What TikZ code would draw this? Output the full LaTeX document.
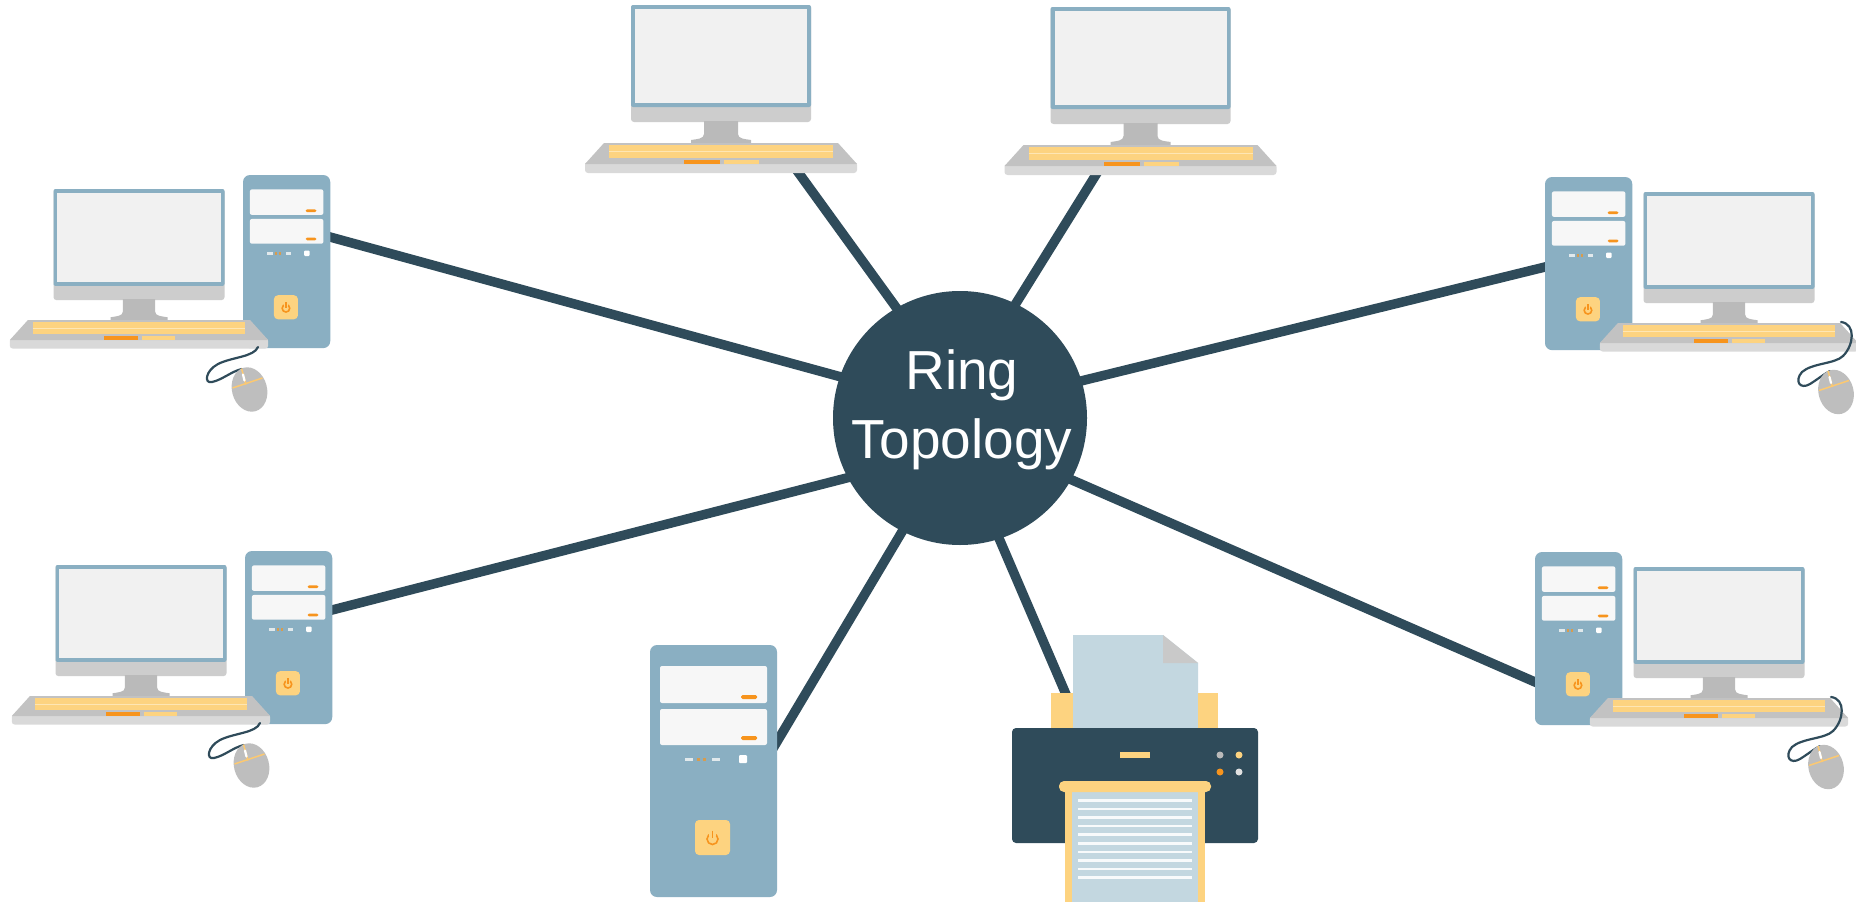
\documentclass[tikz,border=0pt]{standalone}
\usepackage{fontspec}
\setmainfont{Liberation Sans}
\pgfdeclarelayer{bg}
\pgfsetlayers{bg,main}
\definecolor{slate}{HTML}{2F4B5A}
\definecolor{steel}{HTML}{8AAFC2}
\definecolor{screen}{HTML}{F1F1F1}
\definecolor{chin}{HTML}{CDCDCD}
\definecolor{neck}{HTML}{BABABA}
\definecolor{kbd}{HTML}{C2C2C2}
\definecolor{kbdedge}{HTML}{D9D9D9}
\definecolor{sun}{HTML}{FDD380}
\definecolor{sunlight}{HTML}{FEE6B4}
\definecolor{amber}{HTML}{F7941D}
\definecolor{bay}{HTML}{F7F7F7}
\definecolor{mousegrey}{HTML}{BEBEBE}
\definecolor{paper}{HTML}{C3D7E0}
\definecolor{fold}{HTML}{C9C9C9}

\tikzset{
  link/.style={draw=slate, line width=9.5pt, shorten <=-14pt, shorten >=-14pt},
  cable/.style={draw=slate, line width=2.2pt, line cap=round},
  hub/.style={circle, fill=slate, minimum size=254pt, inner sep=0pt},
  hubtext/.style={text=white, align=center, font=\fontsize{55}{69}\selectfont},
  % system unit, origin at its top-left corner
  tower/.pic={
    \fill[steel, rounded corners=7pt] (0,0) rectangle (127,252);
    \fill[bay, rounded corners=2pt] (10,21) rectangle (117,58);
    \fill[bay, rounded corners=2pt] (10,64) rectangle (117,100);
    \fill[amber, rounded corners=1.5pt] (91,50) rectangle (107,54);
    \fill[amber, rounded corners=1.5pt] (91,91) rectangle (107,95);
    \fill[bay!80!steel] (35,112.5) rectangle (43,116);
    \fill[amber!70!steel] (47,112.5) rectangle (50,116);
    \fill[amber!70!steel] (53,112.5) rectangle (56,116);
    \fill[bay!80!steel] (62,112.5) rectangle (70,116);
    \fill[white, rounded corners=1pt] (89,110) rectangle (97,118);
    \fill[sun, rounded corners=4pt] (45,175) rectangle (80,210);
    \draw[amber, line width=1.6pt] (62.5,194) circle (5.5);
    \fill[sun] (59,186) rectangle (66,191);
    \draw[amber, line width=1.6pt] (62.5,185.5) -- (62.5,193);
  },
  % monitor with keyboard, origin at the top centre of the monitor
  deskset/.pic={
    \fill[chin, rounded corners=3pt] (-90,0) rectangle (90,117);
    \fill[steel, rounded corners=2pt] (-90,0) rectangle (90,102);
    \fill[screen] (-86,4) rectangle (86,98);
    \fill[neck] (-17,116) -- (-17,129) .. controls (-17,134) and (-24,134) .. (-30,135)
      -- (-30,138.5) -- (30,138.5) -- (30,135) .. controls (24,134) and (17,134) .. (17,129)
      -- (17,116) -- cycle;
    \fill[kbdedge, rounded corners=3pt] (-136,157) rectangle (136,168);
    \fill[kbd] (-117,138) -- (117,138) -- (136,159) -- (-136,159) -- cycle;
    \fill[sun] (-112,140) rectangle (112,153);
    \draw[sunlight, line width=1pt] (-112,146.5) -- (112,146.5);
    \fill[amber] (-37,154.5) rectangle (-1,159);
    \fill[sun] (3,154.5) rectangle (38,159);
  },
  % mouse, origin at its centre
  mouse/.pic={
    \fill[mousegrey, rotate=15] (0,0) ellipse (17.5 and 22.5);
    \draw[sun!85!amber, line width=1.5pt] (-8,-21) -- (-3.5,-5);
    \draw[sun!85!amber, line width=1.5pt] (-17,-1.5) -- (13,-11.5);
    \draw[white, line width=2.2pt, line cap=round] (-6.5,-15) -- (-5,-9);
  },
  % workstation with the system unit on the right
  weststation/.pic={
    \pic[scale=.687] at (243,175) {tower};
    \pic[scale=.95] at (139,189) {deskset};
    \draw[cable] (258,347) .. controls (254,357) and (232,357) .. (218,364)
      .. controls (205,371) and (204,384) .. (212,382)
      .. controls (222,380) and (232,371) .. (242,369);
    \pic at (249.5,389.5) {mouse};
  },
  % workstation with the system unit on the left
  eaststation/.pic={
    \pic[scale=.687] at (1545,177) {tower};
    \pic[scale=.95] at (1729,192) {deskset};
    \draw[cable] (1841,322) .. controls (1856,324) and (1854,345) .. (1843,356)
      .. controls (1835,364) and (1812,363) .. (1802,372)
      .. controls (1794,381) and (1800,390) .. (1810,384)
      .. controls (1818,379) and (1824,374) .. (1830,371);
    \pic at (1836,392) {mouse};
  },
}

\begin{document}
\begin{tikzpicture}[x=1pt,y=-1pt]
\begin{pgfonlayer}{bg}
  \fill[white] (0,0) rectangle (1856,902);
\end{pgfonlayer}
\useasboundingbox (0,0) rectangle (1856,902);

% workstations
\pic at (0,0) {weststation};
\pic at (2,376) {weststation};
\pic at (0,0) {eaststation};
\pic at (-10,375) {eaststation};
\pic at (721,5) {deskset};
\pic at (1140.5,7) {deskset};

% stand-alone system unit
\pic at (650,645) {tower};

% printer
\fill[paper] (1073,635) -- (1163,635) -- (1198,663) -- (1198,731) -- (1073,731) -- cycle;
\fill[fold] (1163,635) -- (1163,663) -- (1198,663) -- cycle;
\fill[sun] (1051,693) rectangle (1073,731);
\fill[sun] (1198,693) rectangle (1218,731);
\fill[slate, rounded corners=4pt] (1012,728) rectangle (1258,843);
\fill[sun] (1120,752) rectangle (1150,758);
\fill[neck] (1220,755) circle (3.5);
\fill[sun] (1239,755) circle (3.5);
\fill[amber] (1220,772) circle (3.5);
\fill[chin!60!white] (1239,772) circle (3.5);
\fill[sun] (1065,786) rectangle (1205,902);
\fill[paper] (1072,790) rectangle (1198,902);
\fill[sun, rounded corners=5pt] (1059,781) rectangle (1211,792);
\foreach \k in {0,...,9}
  \fill[white!88!paper] (1078,{799+8.6*\k}) rectangle (1192,{801.5+8.6*\k});

% hub
\node[hub] (hub) at (960,418) {};
\node[hubtext] (title) at (962,410) {Ring\\Topology};

% cable ends at the devices
\coordinate (pTL) at (330,237);
\coordinate (pTA) at (798,172);
\coordinate (pTB) at (1097,173);
\coordinate (pRT) at (1545,267);
\coordinate (pRB) at (1535,682);
\coordinate (pPR) at (1065,692);
\coordinate (pTW) at (778,740);
\coordinate (pLB) at (332,610);

\begin{pgfonlayer}{bg}
  \draw[link] (pTL) -- (hub.161.8);
  \draw[link] (pTA) -- (hub.120.4);
  \draw[link] (pTB) -- (hub.64.4);
  \draw[link] (pRT) -- (hub.17.9);
  \draw[link] (pRB) -- (hub.-29.5);
  \draw[link] (pPR) -- (hub.-72.3);
  \draw[link] (pTW) -- (hub.-117.5);
  \draw[link] (pLB) -- (hub.-152);
\end{pgfonlayer}
\end{tikzpicture}
\end{document}
